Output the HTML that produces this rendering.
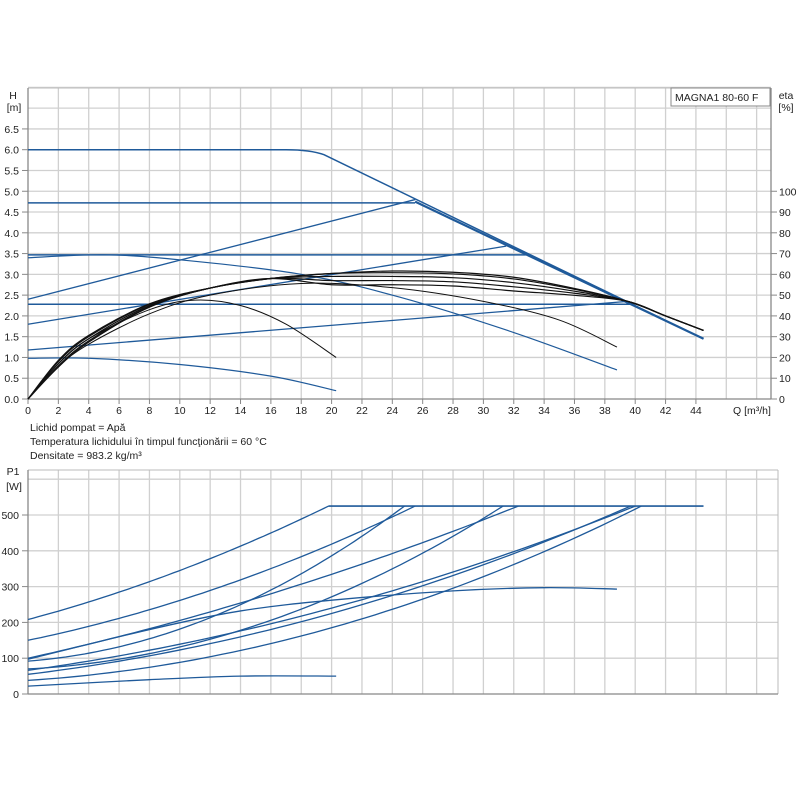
<!DOCTYPE html>
<html><head><meta charset="utf-8"><style>
html,body{margin:0;padding:0;background:#fff;}
svg text{font-family:"Liberation Sans",sans-serif;font-size:10.5px;fill:#222;}
</style></head><body>
<svg id="s" width="800" height="800" xmlns="http://www.w3.org/2000/svg"></svg>
<script>
const S=document.getElementById('s');let out='';
const X=q=>28+15.18*q, Y=h=>399-41.55*h, YP=p=>694-0.358*p;
function line(x1,y1,x2,y2,c,w){out+=`<line x1="${x1}" y1="${y1}" x2="${x2}" y2="${y2}" stroke="${c}" stroke-width="${w}"/>`;}
function txt(x,y,t,a){out+=`<text x="${x}" y="${y}" text-anchor="${a||'start'}">${t}</text>`;}
for(let q=2;q<=48;q+=2) line(X(q),88,X(q),399,'#d0d0d0',1.3);
for(let h=0.5;h<=7.5;h+=0.5) line(28,Y(h),771,Y(h),'#d0d0d0',1.3);
line(28,88,771,88,'#bbb',1);
line(28,88,28,399,'#888',1.3);line(771,88,771,399,'#888',1.3);line(28,399,771,399,'#888',1.3);
for(let h=0;h<=6.5;h+=0.5){line(22,Y(h),28,Y(h),'#888',1);txt(19,Y(h)+4,h.toFixed(1),'end');}
for(let e=0;e<=100;e+=10){line(771,Y(e/20),777,Y(e/20),'#888',1);txt(779,Y(e/20)+4,e);}
for(let q=0;q<=44;q+=2){line(X(q),399,X(q),404,'#888',1);txt(X(q),414,q,'middle');}
txt(733,414,'Q [m³/h]');
txt(13,99,'H','middle');txt(14,111,'[m]','middle');
txt(786,99,'eta','middle');txt(786,111,'[%]','middle');
out+=`<rect x="671" y="88" width="99" height="18" fill="#fff" stroke="#888"/>`;txt(675,101,'MAGNA1 80-60 F');
txt(30,431,'Lichid pompat = Apă');txt(30,445,'Temperatura lichidului în timpul funcţionării = 60 °C');txt(30,459,'Densitate = 983.2 kg/m³');
for(let q=2;q<=50;q+=2) if(X(q)<778) line(X(q),470,X(q),694,'#d0d0d0',1.3);
for(let p=100;p<=600;p+=100) line(28,YP(p),778,YP(p),'#d0d0d0',1.3);
line(28,470,778,470,'#bbb',1);line(778,470,778,694,'#bbb',1);
line(28,470,28,694,'#888',1.3);line(28,694,778,694,'#888',1.3);
for(let p=0;p<=500;p+=100){line(22,YP(p),28,YP(p),'#888',1);txt(19,YP(p)+4,p,'end');}
txt(13,475,'P1','middle');txt(14,490,'[W]','middle');
function cr(pts,fy,c,w){
  const P=pts.map(p=>[X(p[0]),fy(p[1])]);let d=`M${P[0][0]},${P[0][1]}`;
  for(let i=0;i<P.length-1;i++){const p0=P[i-1]||P[i],p1=P[i],p2=P[i+1],p3=P[i+2]||P[i+1];
    d+=` C${p1[0]+(p2[0]-p0[0])/6},${p1[1]+(p2[1]-p0[1])/6} ${p2[0]-(p3[0]-p1[0])/6},${p2[1]-(p3[1]-p1[1])/6} ${p2[0]},${p2[1]}`;}
  out+=`<path d="${d}" fill="none" stroke="${c}" stroke-width="${w}"/>`;}
function quad(y0,qm,ym,q1,y1,c,w){ // quadratic through (0,y0),(qm,ym),(q1,y1)
  // y=y0+b q + a q^2
  const a=((y1-y0)/q1-(ym-y0)/qm)/(q1-qm), b=(ym-y0)/qm-a*qm;
  let d='';for(let i=0;i<=60;i++){const q=q1*i/60;d+=(i?'L':'M')+X(q).toFixed(1)+','+YP(y0+b*q+a*q*q).toFixed(1);}
  out+=`<path d="${d}" fill="none" stroke="${c}" stroke-width="${w}"/>`;}
const B='#1f5a9a',K='#111';
out+=`<path d="M${X(0)},${Y(6)} L${X(17)},${Y(6)} Q${X(18.6)},${Y(6)} ${X(19.5)},${Y(5.88)} L${X(44.5)},${Y(1.45)}" fill="none" stroke="${B}" stroke-width="1.5"/>`;
line(X(25.5),Y(4.75),X(44.5),Y(1.45),B,2.2);
line(X(0),Y(4.72),X(25.5),Y(4.72),B,1.5);line(X(0),Y(2.4),X(25.5),Y(4.8),B,1.3);
line(X(0),Y(3.47),X(32.8),Y(3.47),B,1.5);line(X(0),Y(1.8),X(31.5),Y(3.68),B,1.3);
line(X(0),Y(2.28),X(39.8),Y(2.28),B,1.5);line(X(0),Y(1.18),X(39.5),Y(2.35),B,1.3);
cr([[0,3.4],[5,3.47],[10,3.35],[18,3.0],[24.5,2.45],[32,1.6],[38.8,0.7]],Y,B,1.2);
cr([[0,0.98],[4,0.98],[10,0.83],[16,0.55],[20.3,0.2]],Y,B,1.2);
cr([[0,0],[2,0.85],[4,1.45],[8,2.15],[11,2.38],[14,2.25],[17,1.8],[20.3,1.0]],Y,K,1);
cr([[0,0],[2,0.78],[4,1.32],[8,2.05],[12,2.5],[18,2.78],[24,2.68],[30,2.35],[35,1.9],[38.8,1.25]],Y,K,1);
const bund=[[3.08,0],[3.04,0.05],[2.95,-0.05],[2.85,0.08],[2.75,-0.08]];
bund.forEach(b=>{const pk=b[0],s=b[1];
 cr([[0,0],[2,0.85+s],[4,1.45+s],[8,2.25+s/2],[12,2.67],[16,2.9],[20,Math.min(3.02,pk)],[24,pk],[28,pk-0.03],[32,pk-0.15],[36,(pk-0.15+2.35)/2+0.02],[39.5,2.35],[42,2.0],[44.5,1.65]],Y,K,1.2);});
line(X(19.8),YP(525),X(44.5),YP(525),B,1.6);
quad(208,10,345,19.8,525,B,1.3);
quad(150,12.75,300,25.5,525,B,1.3);
quad(92,12.4,220,24.8,525,B,1.3);
quad(100,16,280,32.3,525,B,1.3);
quad(70,15.6,200,31.3,525,B,1.3);
quad(55,20,225,39.7,525,B,1.3);
quad(38,20,185,40.4,525,B,1.3);
quad(66,20,240,40,525,B,1.3);
cr([[0,97],[8,180],[14,232],[20,262],[28,288],[34,297],[38.8,293]],YP,B,1.3);
cr([[0,22],[8,40],[14,50],[20.3,50]],YP,B,1.3);
S.innerHTML=out;
</script>
</body></html>
